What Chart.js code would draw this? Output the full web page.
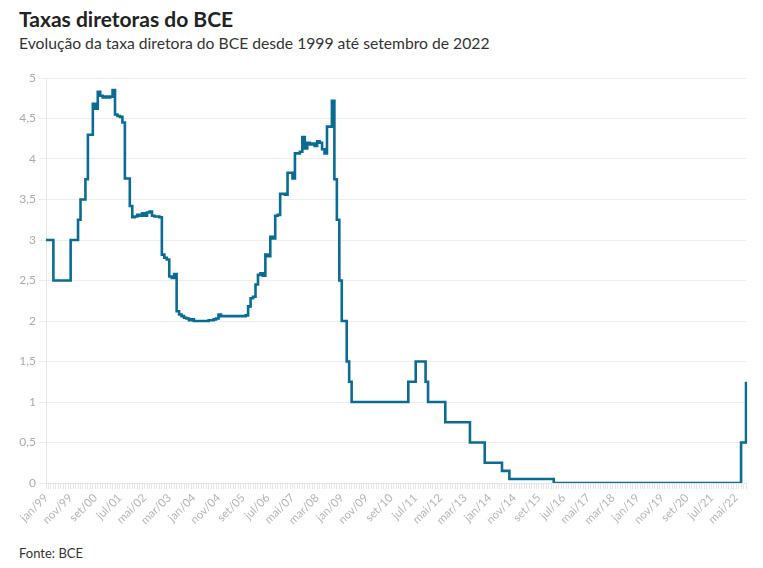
<!DOCTYPE html>
<html lang="pt">

<head>
  <meta charset="UTF-8" />
  <title>Taxas diretoras do BCE</title>
  <script src="https://cdn.jsdelivr.net/npm/chart.js@4"></script>
  <style>
    body {
      margin: 0;
      background: #fff;
      font-family: Lato, "Open Sans", sans-serif;
    }

    .titulo {
      position: absolute;
      left: 19px;
      top: 6px;
      font-size: 21px;
      font-weight: 700;
      color: #222;
    }

    .subtitulo {
      position: absolute;
      left: 19px;
      top: 34px;
      font-size: 15.7px;
      color: #333;
    }

    .grafico {
      position: absolute;
      left: 0;
      top: 60px;
      width: 763px;
      height: 483px;
    }

    .fonte {
      position: absolute;
      left: 19px;
      top: 545px;
      font-size: 13px;
      color: #333;
    }
  </style>
</head>

<body>
  <div class="titulo">Taxas diretoras do BCE</div>
  <div class="subtitulo">Evolução da taxa diretora do BCE desde 1999 até setembro de 2022</div>
  <div class="grafico"><canvas id="grafico"></canvas></div>
  <div class="fonte">Fonte: BCE</div>

  <script>
    // dados mensais, jan/1999 a set/2022 (%)
    const meses = ["jan", "fev", "mar", "abr", "mai", "jun", "jul", "ago", "set", "out", "nov", "dez"];
    const anoInicio = 1999;
    const taxa = [
      3, 3, 3, 2.5, 2.5, 2.5, 2.5, 2.5, 2.5, 2.5, 3, 3,                         // 1999
      3, 3.25, 3.5, 3.5, 3.75, 4.3, 4.3, 4.68, 4.62, 4.83, 4.78, 4.76,          // 2000
      4.77, 4.76, 4.77, 4.85, 4.55, 4.53, 4.52, 4.45, 3.76, 3.76, 3.42, 3.28,   // 2001
      3.29, 3.31, 3.30, 3.33, 3.30, 3.34, 3.35, 3.30, 3.29, 3.29, 3.28, 2.82,   // 2002
      2.78, 2.76, 2.55, 2.53, 2.58, 2.12, 2.08, 2.06, 2.04, 2.03, 2.01, 2.02,   // 2003
      2.0, 2.0, 2.0, 2.0, 2.0, 2.0, 2.01, 2.01, 2.02, 2.03, 2.08, 2.06,         // 2004
      2.06, 2.06, 2.06, 2.06, 2.06, 2.06, 2.06, 2.06, 2.06, 2.07, 2.18, 2.28,   // 2005
      2.30, 2.45, 2.57, 2.59, 2.56, 2.82, 2.80, 3.04, 3.02, 3.30, 3.31, 3.57,   // 2006
      3.57, 3.56, 3.83, 3.83, 3.76, 4.07, 4.07, 4.09, 4.27, 4.13, 4.20, 4.18,   // 2007
      4.19, 4.16, 4.22, 4.20, 4.12, 4.07, 4.40, 4.40, 4.72, 3.75, 3.25, 2.5,    // 2008
      2, 2, 1.5, 1.25, 1, 1, 1, 1, 1, 1, 1, 1,                                  // 2009
      1, 1, 1, 1, 1, 1, 1, 1, 1, 1, 1, 1,                                       // 2010
      1, 1, 1, 1.25, 1.25, 1.25, 1.5, 1.5, 1.5, 1.5, 1.25, 1,                   // 2011
      1, 1, 1, 1, 1, 1, 0.75, 0.75, 0.75, 0.75, 0.75, 0.75,                     // 2012
      0.75, 0.75, 0.75, 0.75, 0.5, 0.5, 0.5, 0.5, 0.5, 0.5, 0.25, 0.25,         // 2013
      0.25, 0.25, 0.25, 0.25, 0.25, 0.15, 0.15, 0.15, 0.05, 0.05, 0.05, 0.05,   // 2014
      0.05, 0.05, 0.05, 0.05, 0.05, 0.05, 0.05, 0.05, 0.05, 0.05, 0.05, 0.05,   // 2015
      0.05, 0.05, 0, 0, 0, 0, 0, 0, 0, 0, 0, 0,                                 // 2016
      0, 0, 0, 0, 0, 0, 0, 0, 0, 0, 0, 0,                                       // 2017
      0, 0, 0, 0, 0, 0, 0, 0, 0, 0, 0, 0,                                       // 2018
      0, 0, 0, 0, 0, 0, 0, 0, 0, 0, 0, 0,                                       // 2019
      0, 0, 0, 0, 0, 0, 0, 0, 0, 0, 0, 0,                                       // 2020
      0, 0, 0, 0, 0, 0, 0, 0, 0, 0, 0, 0,                                       // 2021
      0, 0, 0, 0, 0, 0, 0.5, 0.5, 1.25                                          // 2022
    ];
    const passoRotulo = 10; // um rotulo a cada 10 meses

    const labels = taxa.map((v, i) => {
      const ano = anoInicio + Math.floor(i / 12);
      return meses[i % 12] + "/" + String(ano).slice(2);
    });

    const ctx = document.getElementById("grafico").getContext("2d");
    const grafico = new Chart(ctx, {
      type: "line",
      data: {
        labels: labels,
        datasets: [
          {
            label: "Taxa diretora",
            data: taxa,
            borderColor: "#0b6c93",
            borderWidth: 2.6,
            pointRadius: 0,
            stepped: true,
            fill: false,
          },
        ],
      },
      options: {
        responsive: true,
        maintainAspectRatio: false,
        animation: false,
        layout: {
          padding: { top: 18, right: 17, left: 0, bottom: 0 },
        },
        plugins: {
          legend: { display: false },
          tooltip: { enabled: false },
        },
        scales: {
          x: {
            ticks: {
              autoSkip: false,
              minRotation: 45,
              maxRotation: 45,
              padding: 2,
              color: "#b5b5b5",
              font: { family: "Lato", size: 11.5 },
              callback: (val, i) => (i % passoRotulo === 0 ? labels[i] : ""),
            },
            grid: {
              drawOnChartArea: false,
              drawTicks: true,
              tickLength: 6,
              color: "#e6e6e6",
            },
            border: { display: true, color: "#e6e6e6" },
            afterFit: (scale) => {
              scale.height = 60;
            },
          },
          y: {
            min: 0,
            max: 5,
            ticks: {
              stepSize: 0.5,
              padding: 3,
              color: "#aaaaaa",
              font: { family: "Lato", size: 12 },
              callback: (v) => String(v).replace(".", ","),
            },
            grid: {
              color: "#ededed",
              tickLength: 7,
            },
            border: { display: true, color: "#e6e6e6" },
            afterFit: (scale) => {
              scale.width = 46;
            },
          },
        },
      },
    });
  </script>
</body>

</html>
